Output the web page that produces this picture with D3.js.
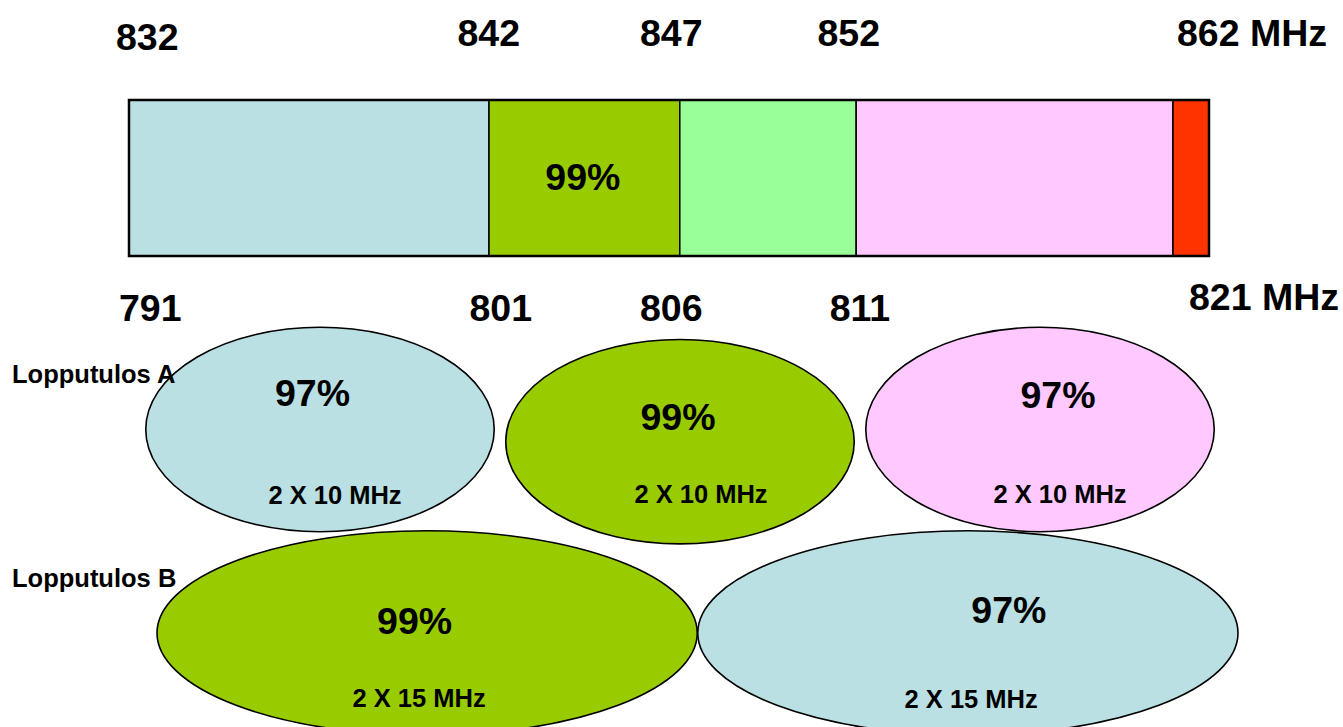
<!DOCTYPE html>
<html>
<head>
<meta charset="utf-8">
<script src="https://cdn.jsdelivr.net/npm/d3@7"></script>
<style>
  html, body { margin: 0; padding: 0; background: #ffffff; }
  svg { display: block; }
  text { font-family: "Liberation Sans", Arial, sans-serif; font-weight: bold; fill: #000; }
</style>
</head>
<body>
<svg id="chart" width="1343" height="727"></svg>
<script>
// ---------- data ----------
const segBounds    = [791, 801, 806.3, 811.2, 820, 821];   // MHz (uplink band, bottom scale)
const segLabels    = ["", "99%", "", "", ""];
const bottomTicks  = [791, 801, 806, 811, 821];
const bottomLabels = ["791", "801", "806", "811", "821 MHz"];
const topLabels    = ["832", "842", "847", "852", "862 MHz"];

const rowNames     = ["Lopputulos A", "Lopputulos B"];
const rowAPercent  = ["97%", "99%", "97%"];
const rowABand     = ["2 X 10 MHz", "2 X 10 MHz", "2 X 10 MHz"];
const rowBPercent  = ["99%", "97%"];
const rowBBand     = ["2 X 15 MHz", "2 X 15 MHz"];

// ---------- styles / layout ----------
const segColors  = ["#BAE0E3", "#99CC00", "#99FF99", "#FFC8FF", "#FF3300"];
const rowAColors = ["#BAE0E3", "#99CC00", "#FFC8FF"];
const rowBColors = ["#99CC00", "#BAE0E3"];
const bigFont = 37.5, smallFont = 25.5;

const svg = d3.select("#chart");
svg.append("rect").attr("width", 1343).attr("height", 727).attr("fill", "#fff");

const x = d3.scaleLinear().domain([791, 821]).range([129, 1209]);
const barTop = 100, barBottom = 256;

// bar segments
const segs = d3.range(segLabels.length).map(i => ({
  x0: segBounds[i], x1: segBounds[i + 1], color: segColors[i], label: segLabels[i]
}));
const bar = svg.append("g");
bar.selectAll("rect.seg").data(segs).join("rect")
  .attr("class", "seg")
  .attr("x", d => x(d.x0)).attr("width", d => x(d.x1) - x(d.x0))
  .attr("y", barTop).attr("height", barBottom - barTop)
  .attr("fill", d => d.color)
  .attr("stroke", "#000").attr("stroke-width", 1.5);
bar.append("rect")
  .attr("x", x(791)).attr("width", x(821) - x(791))
  .attr("y", barTop).attr("height", barBottom - barTop)
  .attr("fill", "none").attr("stroke", "#000").attr("stroke-width", 2.5);
bar.selectAll("text.seglabel").data(segs.filter(d => d.label)).join("text")
  .attr("class", "seglabel")
  .attr("x", d => (x(d.x0) + x(d.x1)) / 2 - 1.5)
  .attr("y", (barTop + barBottom) / 2 + 11.5)
  .attr("text-anchor", "middle")
  .attr("font-size", bigFont)
  .text(d => d.label);

// frequency tick labels (number part centred on the tick, nudged like the original)
const halfNum = 30;
const topNudgeX = [17, -1.5, 1, -1.5, -2];
const topBase   = [49.5, 46, 46, 46, 46];
const botNudgeX = [20, 10.5, 1, 10.7, 10];
const botBase   = [320.7, 320.7, 320.7, 320.7, 309.5];

svg.append("g").selectAll("text").data(topLabels).join("text")
  .attr("x", (d, i) => x(bottomTicks[i]) - halfNum + topNudgeX[i])
  .attr("y", (d, i) => topBase[i])
  .attr("font-size", bigFont)
  .text(d => d);
svg.append("g").selectAll("text").data(bottomLabels).join("text")
  .attr("x", (d, i) => x(bottomTicks[i]) - halfNum + botNudgeX[i])
  .attr("y", (d, i) => botBase[i])
  .attr("font-size", bigFont)
  .text(d => d);

// ellipse rows
const bandA = d3.scaleBand().domain(d3.range(3)).range([140, 1220]).paddingInner(0.032).paddingOuter(0.016);
const bandB = d3.scaleBand().domain(d3.range(2)).range([157, 1238]).paddingInner(0.001);
const rowACy = [429.5, 441.7, 429.5];
const rowBCy = 633;
const ry = 102.2;

const rowA = rowAPercent.map((p, i) => ({
  cx: bandA(i) + bandA.bandwidth() / 2, cy: rowACy[i], rx: bandA.bandwidth() / 2,
  fill: rowAColors[i], pct: p, band: rowABand[i]
}));
const rowB = rowBPercent.map((p, i) => ({
  cx: bandB(i) + bandB.bandwidth() / 2, cy: rowBCy, rx: bandB.bandwidth() / 2,
  fill: rowBColors[i], pct: p, band: rowBBand[i]
}));
// label offsets relative to ellipse centre
const aPctOff  = [[-7.5, -23.5], [-2, -11.7], [18, -22]];
const aBandOff = [[15, 74.5], [21, 61], [20, 73]];
const bPctOff  = [[-12.5, 1], [41, -10.3]];
const bBandOff = [[-8, 73.7], [3.3, 75]];

function drawRow(data, pctOff, bandOff) {
  const g = svg.append("g");
  g.selectAll("ellipse").data(data).join("ellipse")
    .attr("cx", d => d.cx).attr("cy", d => d.cy)
    .attr("rx", d => d.rx).attr("ry", ry)
    .attr("fill", d => d.fill)
    .attr("stroke", "#000").attr("stroke-width", 1.6);
  g.selectAll("text.pct").data(data).join("text")
    .attr("class", "pct")
    .attr("x", (d, i) => d.cx + pctOff[i][0])
    .attr("y", (d, i) => d.cy + pctOff[i][1])
    .attr("text-anchor", "middle")
    .attr("font-size", bigFont)
    .text(d => d.pct);
  g.selectAll("text.band").data(data).join("text")
    .attr("class", "band")
    .attr("x", (d, i) => d.cx + bandOff[i][0])
    .attr("y", (d, i) => d.cy + bandOff[i][1])
    .attr("text-anchor", "middle")
    .attr("font-size", smallFont)
    .text(d => d.band);
}
drawRow(rowA, aPctOff, aBandOff);
drawRow(rowB, bPctOff, bBandOff);

// row titles
const rowTitleY = [382.7, 586.7];
svg.append("g").selectAll("text").data(rowNames).join("text")
  .attr("x", 12)
  .attr("y", (d, i) => rowTitleY[i])
  .attr("font-size", smallFont)
  .text(d => d);
</script>
</body>
</html>
